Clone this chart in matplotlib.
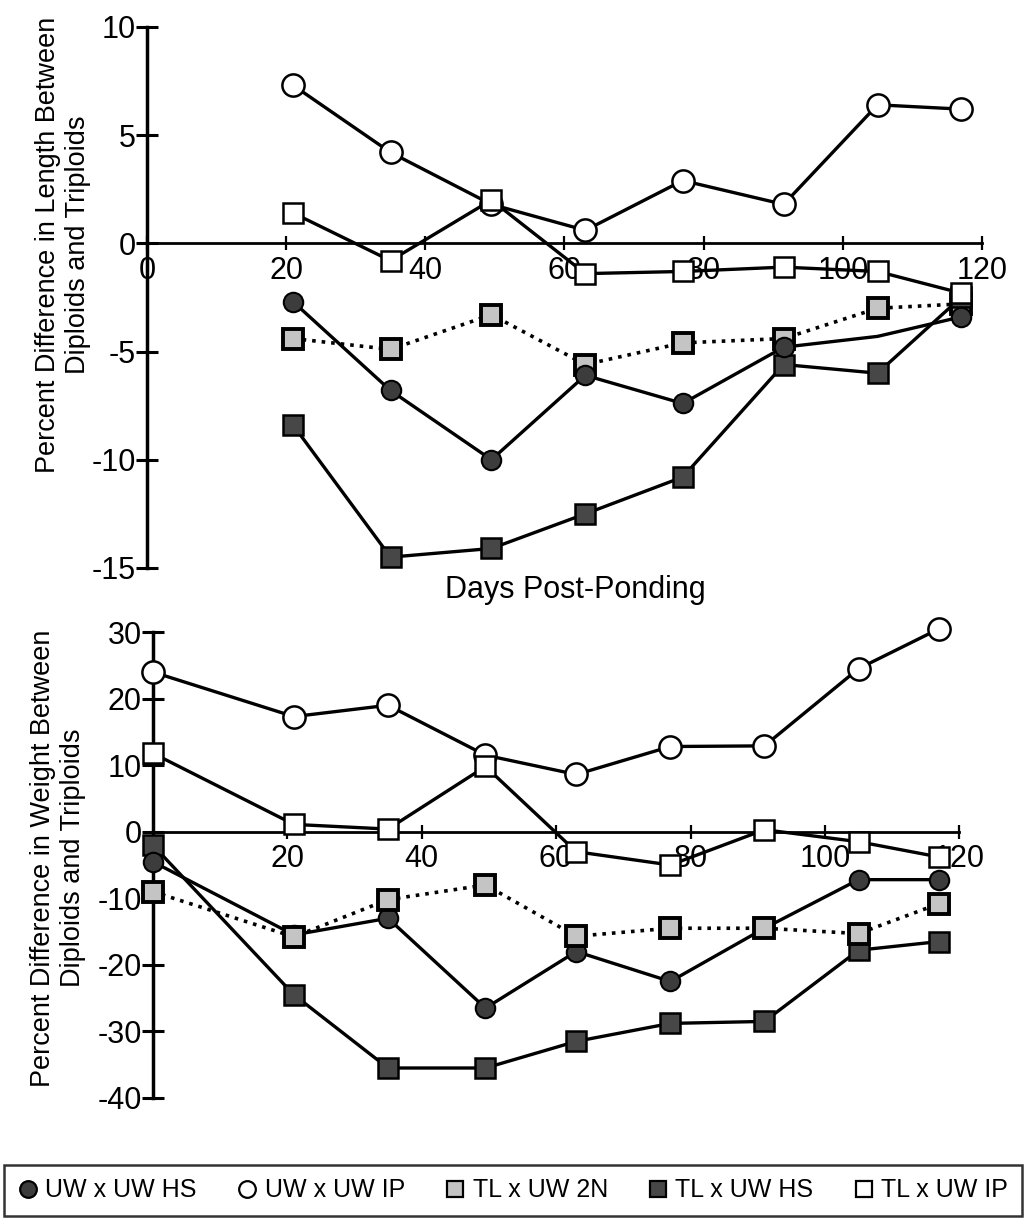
#Two-panel chart: percent difference in length and weight between diploids and triploids
import numpy as np
import matplotlib
matplotlib.use('Agg')
import matplotlib.pyplot as plt
from matplotlib.lines import Line2D

plt.rcParams['font.family'] = ['Liberation Sans', 'DejaVu Sans']
plt.rcParams['axes.unicode_minus'] = False

#data
days_len = [21, 35, 49.5, 63, 77, 91.5, 105, 117]
len_uw_hs = [-2.7, -6.8, -10.0, -6.1, -7.4, -4.8, -4.3, -3.4]
len_uw_ip = [7.3, 4.2, 1.8, 0.6, 2.9, 1.8, 6.4, 6.2]
len_tl_2n = [-4.4, -4.9, -3.3, -5.6, -4.6, -4.4, -3.0, -2.8]
len_tl_hs = [-8.4, -14.5, -14.1, -12.5, -10.8, -5.6, -6.0, -2.5]
len_tl_ip = [1.4, -0.8, 2.0, -1.4, -1.3, -1.1, -1.3, -2.3]

days_wt = [0, 21, 35, 49.5, 63, 77, 91, 105, 117]
wt_uw_hs = [-4.5, -15.5, -13.0, -26.5, -18.0, -22.5, -14.5, -7.2, -7.2]
wt_uw_ip = [24.0, 17.3, 19.0, 11.5, 8.6, 12.8, 12.9, 24.5, 30.5]
wt_tl_2n = [-9.0, -15.8, -10.2, -8.0, -15.7, -14.5, -14.5, -15.3, -10.8]
wt_tl_hs = [-2.0, -24.5, -35.5, -35.5, -31.5, -28.8, -28.5, -17.8, -16.5]
wt_tl_ip = [11.8, 1.1, 0.4, 9.8, -3.0, -5.0, 0.3, -1.5, -3.8]

labels = ['UW x UW HS', 'UW x UW IP', 'TL x UW 2N', 'TL x UW HS', 'TL x UW IP']

#marker styles for each cross
styles = {
    'uw_hs': dict(marker='o', mfc='#3c3c3c', mec='black', ms=14, mew=1.5, ls='-', lw=2.4),
    'uw_ip': dict(marker='o', mfc='white', mec='black', ms=16, mew=1.8, ls='-', lw=2.4),
    'tl_2n': dict(marker='s', mfc='#c4c4c4', mec='black', ms=14, mew=2.8, ls=':', lw=2.6),
    'tl_hs': dict(marker='s', mfc='#474747', mec='black', ms=15, mew=1.8, ls='-', lw=2.4),
    'tl_ip': dict(marker='s', mfc='white', mec='black', ms=15, mew=1.8, ls='-', lw=2.4),
}

fig = plt.figure(figsize=(10.25, 12.28), dpi=100)
ax1 = fig.add_axes([0.1434, 0.5375, 0.8146, 0.4406])
ax2 = fig.add_axes([0.149, 0.1059, 0.787, 0.3794])


def setup(ax, ylo, yhi, ystep, xticks):
    ax.set_xlim(0, 120)
    ax.set_ylim(ylo, yhi)
    ax.patch.set_visible(False)
    for s in ['top', 'right']:
        ax.spines[s].set_visible(False)
    ax.spines['bottom'].set_position(('data', 0))
    ax.spines['left'].set_position(('data', 0))
    ax.spines['left'].set_linewidth(2.5)
    ax.spines['bottom'].set_linewidth(2)
    ax.set_yticks(np.arange(ylo, yhi + 1, ystep))
    ax.set_yticklabels([str(int(v)) for v in np.arange(ylo, yhi + 1, ystep)])
    ax.set_xticks(xticks)
    ax.set_xticklabels([str(v) for v in xticks])
    ax.tick_params(axis='y', direction='inout', length=16, width=2.2, labelsize=22, pad=0)
    ax.tick_params(axis='x', direction='inout', length=10, width=1.6, labelsize=22, pad=4)


setup(ax1, -15, 10, 5, [0, 20, 40, 60, 80, 100, 120])
setup(ax2, -40, 30, 10, [20, 40, 60, 80, 100, 120])

#top panel: length
ax1.plot(days_len, len_tl_2n, color='black', zorder=3, clip_on=False, **styles['tl_2n'])
ax1.plot(days_len, len_tl_hs, color='black', zorder=3, clip_on=False, **styles['tl_hs'])
ax1.plot(days_len, len_uw_hs, color='black', zorder=4, clip_on=False,
         markevery=[0, 1, 2, 3, 4, 5, 7], **styles['uw_hs'])
ax1.plot(days_len, len_uw_ip, color='black', zorder=5, clip_on=False, **styles['uw_ip'])
ax1.plot(days_len, len_tl_ip, color='black', zorder=5, clip_on=False, **styles['tl_ip'])

#bottom panel: weight
ax2.plot(days_wt, wt_tl_hs, color='black', zorder=3, clip_on=False, **styles['tl_hs'])
ax2.plot(days_wt, wt_uw_hs, color='black', zorder=3, clip_on=False, **styles['uw_hs'])
ax2.plot(days_wt, wt_tl_2n, color='black', zorder=4, clip_on=False, **styles['tl_2n'])
ax2.plot(days_wt, wt_uw_ip, color='black', zorder=5, clip_on=False, **styles['uw_ip'])
ax2.plot(days_wt, wt_tl_ip, color='black', zorder=5, clip_on=False, **styles['tl_ip'])

#axis titles
fig.text(0.061, 1 - 245 / 1228, 'Percent Difference in Length Between\nDiploids and Triploids',
         rotation=90, ha='center', va='center', fontsize=19.5, linespacing=1.2)
fig.text(0.057, 1 - 858 / 1228, 'Percent Difference in Weight Between\nDiploids and Triploids',
         rotation=90, ha='center', va='center', fontsize=19.5, linespacing=1.2)
fig.text(575 / 1025, 1 - 590 / 1228, 'Days Post-Ponding', ha='center', va='center', fontsize=22)

#legend along the bottom
handles = []
for key in ['uw_hs', 'uw_ip', 'tl_2n', 'tl_hs', 'tl_ip']:
    st = styles[key]
    handles.append(Line2D([], [], color='black', marker=st['marker'], mfc=st['mfc'],
                          mec=st['mec'], ms=12, mew=1.6, ls='none'))
leg = fig.legend(handles, labels, loc='lower left', ncol=5, mode='expand',
                 bbox_to_anchor=(0.004, 1 - 1216 / 1228, 0.993, 54 / 1228),
                 frameon=True, fancybox=False, edgecolor='black',
                 handlelength=0.8, handletextpad=0.3, columnspacing=0.6, borderpad=0.55,
                 borderaxespad=0, prop={'size': 18})
leg.get_frame().set_linewidth(1.8)

plt.savefig('out.png', dpi=100)
